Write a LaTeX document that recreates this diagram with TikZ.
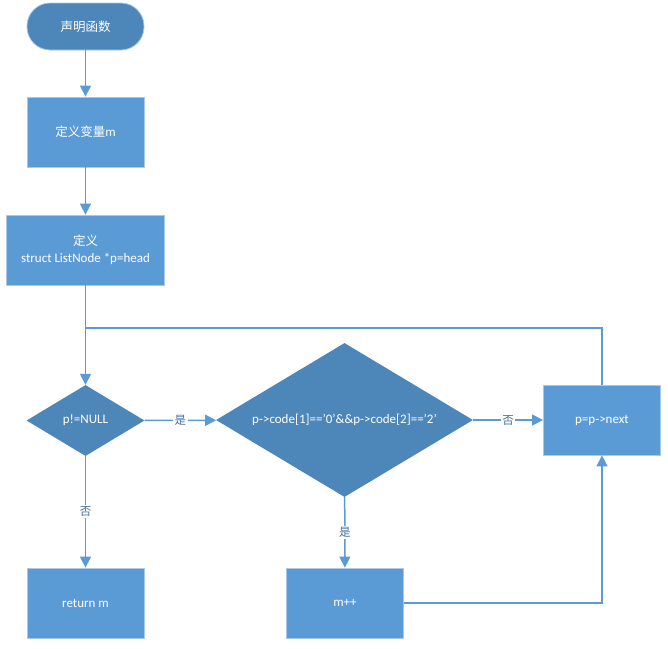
\documentclass[tikz,border=0pt]{standalone}
\usepackage{fontspec}
\setmainfont{Carlito}
\newfontfamily\cjk{Noto Sans CJK SC}
\usetikzlibrary{shapes.geometric,arrows.meta}
\definecolor{boxblue}{HTML}{5B9BD5}
\definecolor{darkblue}{HTML}{4D86B9}
\definecolor{edgeblue}{HTML}{A9C8E8}
\definecolor{lineblue}{HTML}{5B9BD5}
\definecolor{lblblue}{HTML}{41719C}
\newcommand{\cj}[1]{{\cjk\fontsize{12.5}{15}\selectfont #1}}
\tikzset{
  proc/.style={rectangle, fill=boxblue, draw=edgeblue, line width=0.8pt, text=white, inner sep=0pt, minimum width=117pt, minimum height=70pt, font=\fontsize{13}{17}\selectfont, align=center},
  term/.style={rectangle, rounded corners=23pt, fill=darkblue, draw=edgeblue, line width=0.8pt, text=white, inner sep=0pt, minimum width=117pt, minimum height=47pt, font=\fontsize{13}{16}\selectfont},
  dec/.style={diamond, fill=darkblue, draw=none, text=white, inner sep=0pt, font=\fontsize{13}{16}\selectfont},
  conn/.style={draw=lineblue, line width=1.5pt},
  arr/.style={conn, -{Triangle[width=11pt,length=11pt]}},
  lbl/.style={fill=white, text=lblblue, inner sep=1.5pt, font=\cjk\fontsize{11.5}{13}\selectfont}
}
\begin{document}
\begin{tikzpicture}[x=1pt,y=-1pt]
\useasboundingbox (0,0) rectangle (668,648);
\node[term] (start) at (85.5,26.5) {\cj{声明函数}};
\node[proc] (b1) at (85.5,132) {\cj{定义变量}m};
\node[proc, minimum width=158pt] (b2) at (85.5,250) {\cj{定义}\\struct ListNode *p=head};
\node[dec, minimum width=118pt, minimum height=71pt] (d1) at (85.5,420.5) {\makebox[0pt]{p!=NULL}};
\node[dec, minimum width=257pt, minimum height=154pt] (d2) at (344.5,420) {\makebox[0pt]{p->code[1]=='0'\&\&p->code[2]=='2'}};
\node[proc] (next) at (602,420) {p=p->next};
\node[proc] (ret) at (85.5,603) {return m};
\node[proc] (mpp) at (345,603) {m++};
\coordinate (j) at (85.5,328);
\draw[arr] (start) -- (b1);
\draw[arr] (b1) -- (b2);
\draw[arr] (b2) -- (d1);
\draw[conn] (next.north) |- (j);
\draw[arr] (d1) -- node[lbl]{是} (d2);
\draw[arr] (d2) -- node[lbl]{否} (next);
\draw[arr] (d1) -- node[lbl]{否} (ret);
\draw[arr] (d2) -- node[lbl]{是} (mpp);
\draw[arr] (mpp.east) -| (next.south);
\end{tikzpicture}
\end{document}
